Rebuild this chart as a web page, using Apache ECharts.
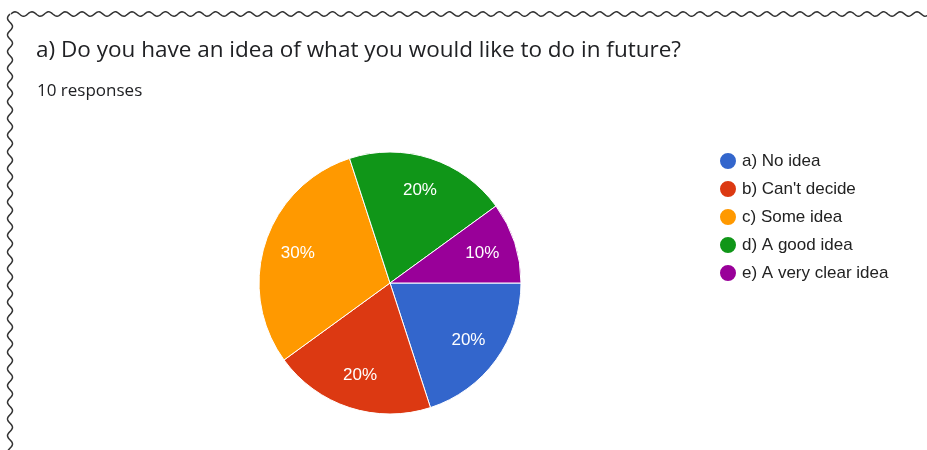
<!DOCTYPE html>
<html><head><meta charset="utf-8">
<script src="https://cdn.jsdelivr.net/npm/echarts@6/dist/echarts.min.js"></script>
<style>html,body{margin:0;padding:0;background:#fff}#c{width:927px;height:450px}</style>
</head><body><div id="c"></div>
<script>
const categories = ["a) No idea", "b) Can't decide", "c) Some idea", "d) A good idea", "e) A very clear idea"];
const counts = [2, 2, 3, 2, 1];
const colors = ['#3366cc', '#dc3912', '#ff9900', '#109618', '#990099'];

const chart = echarts.init(document.getElementById('c'), null, {renderer: 'canvas'});
const data = categories.map((n, i) => ({name: n, value: counts[i], itemStyle: {color: colors[i]}}));

// decorative torn-edge wavy border
function wavyTop() {
  const pts = [];
  for (let x = 11; x <= 930; x += 1) pts.push([x, 14 - 2.2 * Math.sin((x - 11) / 16.7 * 2 * Math.PI)]);
  return pts;
}
function wavyLeft() {
  const pts = [];
  for (let y = 14; y <= 455; y += 1) pts.push([10 - 2.5 * Math.sin((y - 14) / 16.7 * 2 * Math.PI), y]);
  return pts;
}

chart.setOption({
  animation: false,
  color: colors,
  graphic: [
    {type: 'polyline', shape: {points: wavyTop()}, style: {stroke: '#333', lineWidth: 1.5, fill: null}, silent: true},
    {type: 'polyline', shape: {points: wavyLeft()}, style: {stroke: '#333', lineWidth: 1.5, fill: null}, silent: true},
    {type: 'text', left: 36, top: 39, style: {text: 'a) Do you have an idea of what you would like to do in future?', font: '22.5px "Open Sans"', fill: '#202124'}},
    {type: 'text', left: 37, top: 83, style: {text: '10 responses', font: '17px "Open Sans"', fill: '#202124'}}
  ],
  legend: {
    orient: 'vertical', left: 713, top: 146,
    icon: 'circle', itemWidth: 18, itemHeight: 18, itemGap: 8,
    textStyle: {fontFamily: 'Liberation Sans, Arial', fontSize: 17, color: '#222'},
    data: categories
  },
  series: [
    {
      type: 'pie', center: [390, 283], radius: [0, 131], startAngle: 0, clockwise: true,
      data: data, label: {show: false}, labelLine: {show: false},
      itemStyle: {borderColor: '#fff', borderWidth: 1}, emphasis: {disabled: true}
    },
    {
      type: 'pie', center: [390, 283], radius: [57, 131], startAngle: 0, clockwise: true,
      data: data.map(d => ({name: d.name, value: d.value})), silent: true,
      itemStyle: {color: 'rgba(0,0,0,0)', borderWidth: 0},
      label: {show: true, position: 'inside', color: '#fff', fontSize: 17, fontFamily: 'Liberation Sans, Arial',
        formatter: p => Math.round(p.percent) + '%'},
      labelLine: {show: false}, emphasis: {disabled: true}, legendHoverLink: false
    }
  ]
});
</script></body></html>
